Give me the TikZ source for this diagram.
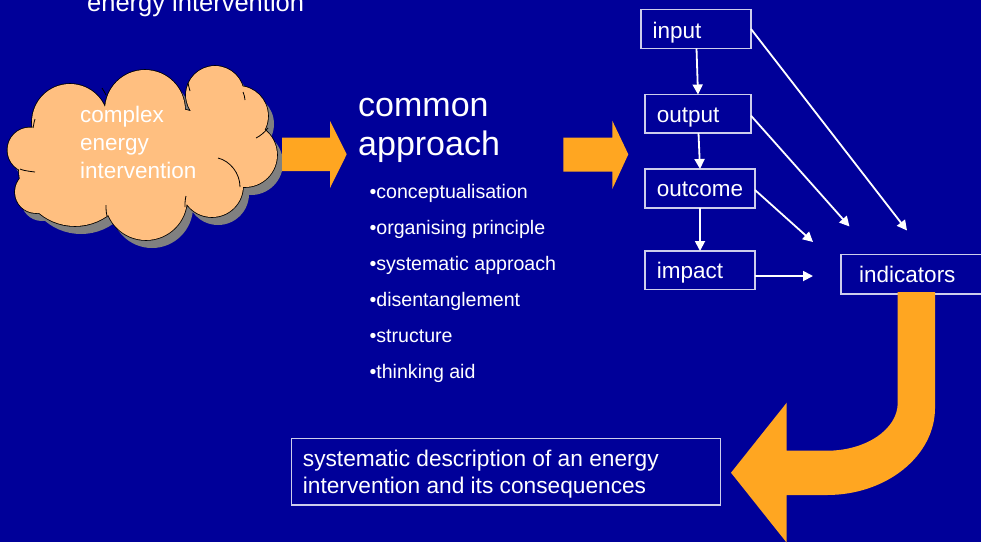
\documentclass[tikz,border=0pt]{standalone}
\usepackage{fontspec}
\setmainfont{Liberation Sans}
\usetikzlibrary{arrows.meta}
\definecolor{slidebg}{RGB}{0,0,153}
\definecolor{flowarrow}{RGB}{255,166,33}
\definecolor{cloudfill}{RGB}{255,191,128}
\definecolor{cloudshade}{RGB}{128,128,128}
\definecolor{boxline}{RGB}{205,205,235}
\tikzset{
  txt/.style={text=white,inner sep=0pt,anchor=base west},
  stagebox/.style={draw=boxline,line width=1.1pt,fill=none},
  link/.style={draw=white,line width=1.8pt,-{Triangle[length=10pt,width=10pt]}},
  curl/.style={draw=black,line width=0.8pt},
}
% the puffs of the cloud, as circles (centre x, centre y, radius)
\newcommand\cloudpuffs{%
  (30,150) circle[radius=22.5]
  (36,192) circle[radius=21]
  (75,170) circle[radius=56]
  (146,199) circle[radius=41]
  (212,186) circle[radius=31]
  (245,155) circle[radius=32]
  (238,116) circle[radius=30]
  (215,95) circle[radius=29]
  (145,110) circle[radius=40]
  (70,122) circle[radius=38]
  (145,155) ellipse[x radius=95,y radius=50]}
\begin{document}
\begin{tikzpicture}[x=1pt,y=-1pt]
\clip (0,0) rectangle (981,542);
\fill[slidebg] (0,0) rectangle (981,542);

% heading, partly above the page
\node[txt,font=\fontsize{25.5}{30}\selectfont] (title) at (87,11) {energy intervention};

% cloud: shadow, outline (only its outer rim stays visible), fill, inner curls
\begin{scope}[shift={(6,8)}]
  \fill[cloudshade] \cloudpuffs;
\end{scope}
\draw[black,line width=1.6pt] \cloudpuffs;
\fill[cloudfill] \cloudpuffs;
\draw[curl] (33,128) .. controls (34,124) and (34,121) .. (35,119);
\draw[curl] (35,172) .. controls (26,171) and (22,170) .. (20,169);
\draw[curl] (107,216) .. controls (106,212) and (106,208) .. (106,205);
\draw[curl] (185,207) .. controls (185,203) and (185,200) .. (186,196);
\draw[curl] (218,158) .. controls (230,161) and (240,173) .. (240,187);
\draw[curl] (268,128) .. controls (264,133) and (260,136) .. (256,138);
\draw[curl] (243,92) .. controls (244,95) and (245,97) .. (245,100);
\draw[curl] (188,83) .. controls (189,86) and (189,89) .. (190,91);
\draw[curl] (102,88) .. controls (104,91) and (105,93) .. (106,95);
\begin{scope}[every node/.style={txt,font=\fontsize{22.5}{27.5}\selectfont}]
\node (cloudl1) at (80,122.7) {complex};
\node (cloudl2) at (80,150) {energy};
\node (cloudl3) at (80,178) {intervention};
\end{scope}

% block arrows
\fill[flowarrow] (282,137.7) -- (330,137.7) -- (330,121) -- (346.7,154.3) -- (330,188)
  -- (330,171) -- (282,171) -- cycle;
\fill[flowarrow] (563.3,137.7) -- (612.3,137.7) -- (612.3,120.7) -- (628.3,154.3)
  -- (612.3,189) -- (612.3,171.7) -- (563.3,171.7) -- cycle;

% common approach
\node[txt,font=\fontsize{34}{38.5}\selectfont] (heading) at (358,116.7) {common};
\node[txt,font=\fontsize{34}{38.5}\selectfont] (heading2) at (358,155) {approach};
\begin{scope}[every node/.style={txt,font=\fontsize{19.6}{24}\selectfont}]
\node (b1) at (369.3,198.3) {•conceptualisation};
\node (b2) at (369.3,234.3) {•organising principle};
\node (b3) at (369.3,270.3) {•systematic approach};
\node (b4) at (369.3,306.3) {•disentanglement};
\node (b5) at (369.3,342.5) {•structure};
\node (b6) at (369.3,378.3) {•thinking aid};
\end{scope}

% result chain
\draw[stagebox] (641,9.5) rectangle (751,48.5);
\draw[stagebox] (645,94.5) rectangle (751,133);
\draw[stagebox] (645,169) rectangle (755,208);
\draw[stagebox] (645,251) rectangle (755,289.5);
\draw[stagebox] (841,254.5) rectangle (995,294);
\begin{scope}[every node/.style={txt,font=\fontsize{22.5}{27}\selectfont}]
\node (input) at (652.3,38.3) {input};
\node (output) at (656.7,122.7) {output};
\node (outcome) at (656.7,196.7) {outcome};
\node (impact) at (656.7,278.3) {impact};
\node (indicators) at (859,282.7) {indicators};
\end{scope}

\coordinate (inbot) at (696.5,48.5);
\coordinate (outtop) at (698,94.5);
\coordinate (outbot) at (698.5,133);
\coordinate (oc_top) at (700,169);
\coordinate (oc_bot) at (700,208);
\coordinate (imtop) at (700,251);
\coordinate (imright) at (755,276);
\coordinate (imend) at (813,276);
\coordinate (inright) at (751,29);
\coordinate (inend) at (907,230.5);
\coordinate (outright) at (751,115.7);
\coordinate (outend) at (849.5,226.5);
\coordinate (ocright) at (755,190);
\coordinate (ocend) at (813,242);

\draw[link] (inbot) -- (outtop);
\draw[link] (outbot) -- (oc_top);
\draw[link] (oc_bot) -- (imtop);
\draw[link] (imright) -- (imend);
\draw[link] (inright) -- (inend);
\draw[link] (outright) -- (outend);
\draw[link] (ocright) -- (ocend);

% curved block arrow down to the summary
\fill[flowarrow] (897.7,292) -- (897.7,403)
  .. controls (897.7,429.3) and (865.9,450.7) .. (827,450.7)
  -- (786.7,450.7) -- (786.7,402.7) -- (731,472.7) -- (786.7,542.7)
  -- (786.7,495) -- (827,495)
  .. controls (886.4,495) and (935,455.9) .. (935,408)
  -- (935,292) -- cycle;

% summary
\draw[stagebox] (291.7,438.3) rectangle (720.7,505);
\begin{scope}[every node/.style={txt,font=\fontsize{22.7}{26.3}\selectfont}]
\node (summary1) at (302.7,466.7) {systematic description of an energy};
\node (summary2) at (302.7,493) {intervention and its consequences};
\end{scope}
\end{tikzpicture}
\end{document}
